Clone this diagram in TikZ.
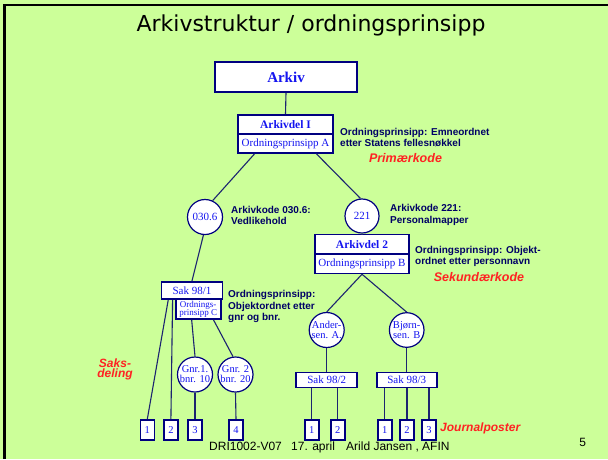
\documentclass[tikz,border=0pt]{standalone}
\usepackage{fontspec}
\setmainfont{Liberation Serif}
\newfontfamily\sansf{Liberation Sans}
\newfontfamily\titlef{DejaVu Sans}
\usetikzlibrary{calc}
\definecolor{bgc}{HTML}{CCFF99}
\definecolor{navyb}{HTML}{000080}
\definecolor{lnc}{HTML}{1C2470}
\definecolor{txb}{HTML}{1414F0}
\definecolor{anc}{HTML}{000066}
\definecolor{redc}{HTML}{FF2222}
\tikzset{
 bx/.style={draw=navyb, line width=1.6pt, fill=white, text=txb, inner sep=0pt, align=center, font=\fontsize{11}{11}\selectfont},
 circ/.style={circle, draw=navyb, line width=1.2pt, fill=white, text=txb, inner sep=0pt, minimum size=35pt, align=center, font=\fontsize{10.5}{10}\selectfont},
 jbox/.style={bx, minimum width=14pt, minimum height=20pt, font=\fontsize{10.5}{10.5}\selectfont},
 conn/.style={draw=lnc, line width=1.1pt},
 ann/.style={text=anc, font=\sansf\bfseries\fontsize{10}{11.5}\selectfont, align=left, inner sep=0pt, anchor=west},
 redt/.style={text=redc, font=\sansf\bfseries\itshape\fontsize{12.5}{11}\selectfont, inner sep=0pt, align=center},
 foot/.style={text=black, font=\sansf\fontsize{12}{12}\selectfont, inner sep=0pt, anchor=base west},
}
\begin{document}
\begin{tikzpicture}[x=1pt,y=-1pt]
\useasboundingbox (0,0) rectangle (608,459);
\fill[bgc] (0,0) rectangle (608,459);
\draw[black, line width=2.6pt] (4.3,459) -- (4.3,4.8) -- (608,4.8);

\node[text=black, font=\titlef\fontsize{22}{22}\selectfont, inner sep=0pt, anchor=base] (title) at (311,31.7) {Arkivstruktur / ordningsprinsipp};

% boxes
\node[bx, minimum width=142pt, minimum height=30pt, font=\bfseries\fontsize{15}{15}\selectfont] (arkiv) at (286,77) {Arkiv};
\node[bx, minimum width=95pt, minimum height=19pt, font=\bfseries\fontsize{11.5}{11.5}\selectfont] (ad1) at (285.5,124.5) {Arkivdel I};
\node[bx, minimum width=95pt, minimum height=19pt] (ad1b) at (285.5,143.5) {Ordningsprinsipp A};
\node[bx, minimum width=94pt, minimum height=19.5pt, font=\bfseries\fontsize{11.5}{11.5}\selectfont] (ad2) at (362,244.2) {Arkivdel 2};
\node[bx, minimum width=94pt, minimum height=19.5pt] (ad2b) at (362,263.7) {Ordningsprinsipp B};
\node[bx, minimum width=61pt, minimum height=17.5pt] (sak981) at (192,290.5) {Sak 98/1};
\node[bx, minimum width=45pt, minimum height=20pt, font=\fontsize{9}{8.5}\selectfont] (opc) at (198.2,309.2) {Ordnings-\\prinsipp C};
\node[bx, minimum width=61pt, minimum height=15pt] (sak982) at (326.7,380) {Sak 98/2};
\node[bx, minimum width=60pt, minimum height=15pt] (sak983) at (406.7,380) {Sak 98/3};

% circles
\node[circ, font=\fontsize{11}{11}\selectfont] (c0306) at (205,217) {030.6};
\node[circ, minimum size=34pt, font=\fontsize{11}{11}\selectfont] (c221) at (362,216) {221};
\node[circ] (gnr1) at (195,374.5) {Gnr.1.\\bnr. 10};
\node[circ] (gnr2) at (235.5,374.5) {Gnr. 2\\bnr. 20};
\node[circ, minimum size=34.6pt] (ander) at (326.7,330) {Ander-\\sen. A.};
\node[circ, minimum size=34.6pt] (bjorn) at (406.7,330) {Bjørn-\\sen. B};

% journal boxes
\node[jbox] (j1) at (147.3,430) {1};
\node[jbox] (j2) at (170.9,430) {2};
\node[jbox] (j3) at (195,430) {3};
\node[jbox] (j4) at (236,430) {4};
\node[jbox] (j5) at (311.8,430) {1};
\node[jbox] (j6) at (337.7,430) {2};
\node[jbox] (j7) at (384.7,430) {1};
\node[jbox] (j8) at (407,430) {2};
\node[jbox] (j9) at (429,430) {3};

% connectors
\draw[conn] (arkiv.south) -- (ad1.north);
\draw[conn] ($(ad1b.south west)!0.18!(ad1b.south east)$) -- (c0306.65);
\draw[conn] ($(ad1b.south west)!0.82!(ad1b.south east)$) -- (c221.95);
\draw[conn] (c0306.265) -- (sak981.north);
\draw[conn] (c221.south) -- (ad2.north);
\draw[conn] (ad2b.south) -- (ander.north);
\draw[conn] (ad2b.south) -- (bjorn.north);
\draw[conn] (ander.south) -- (sak982.north);
\draw[conn] (bjorn.south) -- (sak983.north);
\draw[conn] ($(sak981.south west)!0.12!(sak981.south east)$) -- (j1.north);
\draw[conn] ($(sak981.south west)!0.19!(sak981.south east)$) -- (j2.north);
\draw[conn] ($(opc.south west)!0.36!(opc.south east)$) -- (gnr1.north);
\draw[conn] ($(opc.south west)!0.83!(opc.south east)$) -- (gnr2.98);
\draw[conn] (gnr1.south) -- (j3.north);
\draw[conn] (gnr2.south) -- (j4.north);
\draw[conn] (j5.north) -- (j5.north |- sak982.south);
\draw[conn] (j6.north) -- (j6.north |- sak982.south);
\draw[conn] (j7.north) -- (j7.north |- sak983.south);
\draw[conn] (j8.north) -- (j8.north |- sak983.south);
\draw[conn] (j9.north) -- (j9.north |- sak983.south);

% annotations
\node[ann] (a1) at (340,137.5) {Ordningsprinsipp: Emneordnet\\etter Statens fellesnøkkel};
\node[redt] (prim) at (405.5,158.5) {Primærkode};
\node[ann] (a2) at (231,215.5) {Arkivkode 030.6:\\Vedlikehold};
\node[ann] (a3) at (390,215) {Arkivkode 221:\\Personalmapper};
\node[ann] (a4) at (415,256.5) {Ordningsprinsipp: Objekt-\\ordnet etter personnavn};
\node[redt] (sek) at (479,277) {Sekundærkode};
\node[ann] (a5) at (228,306.5) {Ordningsprinsipp:\\Objektordnet etter\\gnr og bnr.};
\node[redt, font=\sansf\bfseries\itshape\fontsize{12}{10.5}\selectfont] (saks) at (115,369.5) {Saks-\\deling};
\node[redt, font=\sansf\bfseries\itshape\fontsize{12}{12}\selectfont, anchor=west] (jp) at (440,428) {Journalposter};

% footer
\node[foot] (f1) at (209,450.5) {DRI1002-V07};
\node[foot] (f2) at (291,450.5) {17. april};
\node[foot] (f3) at (346,450.5) {Arild Jansen , AFIN};
\node[foot, anchor=base] (f4) at (582.6,446.5) {5};
\end{tikzpicture}
\end{document}
